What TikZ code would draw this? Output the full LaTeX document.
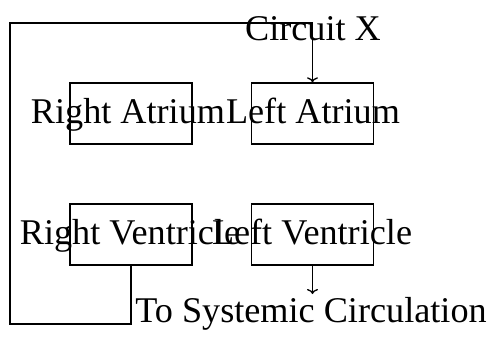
\documentclass[tikz,border=0pt]{standalone}
\usepackage{fontspec}
\setmainfont{Liberation Serif}
\usetikzlibrary{arrows.meta}
\begin{document}
\begin{tikzpicture}[x=1pt,y=-1pt,
  box/.style={draw,line width=1.4pt,minimum width=122pt,minimum height=61pt,inner sep=0pt},
  lbl/.style={inner sep=0pt,anchor=base,font=\fontsize{36.2}{40}\selectfont},
  conn/.style={line width=1.4pt},
  arr/.style={line width=1.3pt,-{To[length=5pt,width=11pt]}}]
\useasboundingbox (0,0) rectangle (491,338);
\node[box] (ra) at (131,113.5) {};
\node[box] (la) at (312.5,113.5) {};
\node[box] (rv) at (131,234.5) {};
\node[box] (lv) at (312.5,234.5) {};
\node[lbl] (tra) at (128,123) {Right Atrium};
\node[lbl] (tla) at (313,123) {Left Atrium};
\node[lbl] (trv) at (130,244) {Right Ventricle};
\node[lbl] (tlv) at (312,244) {Left Ventricle};
\node[lbl] (cx) at (313,40) {Circuit X};
\node[lbl] (sys) at (311,322) {To Systemic Circulation};
\coordinate (c1) at (10,324);
\coordinate (c2) at (10,23);
\coordinate (c3) at (312.5,23);
\coordinate (c4) at (312.5,294);
\draw[conn] (rv.south) |- (c1) -- (c2) -- (c3);
\draw[arr] (c3) -- (la.north);
\draw[arr] (lv.south) -- (c4);
\end{tikzpicture}
\end{document}
